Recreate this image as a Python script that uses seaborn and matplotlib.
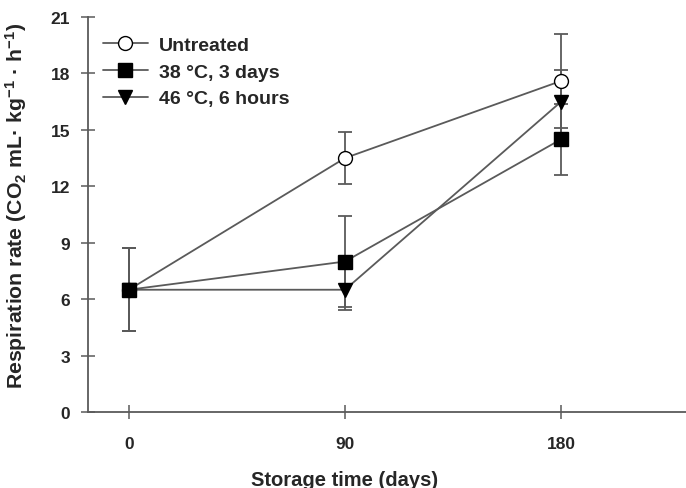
import matplotlib
matplotlib.use("Agg")
import matplotlib.pyplot as plt
import matplotlib.transforms as mtransforms
import seaborn as sns
import pandas as pd
from matplotlib.lines import Line2D

days = [0, 90, 180]
series = ["Untreated", "38 \u00b0C, 3 days", "46 \u00b0C, 6 hours"]
untreated = [6.5, 13.5, 17.6]
untreated_err = [2.2, 1.4, 2.5]
heat38 = [6.5, 8.0, 14.5]
heat38_err = [2.2, 2.4, 1.9]
heat46 = [6.5, 6.5, 16.5]
heat46_err = [2.2, 1.1, 1.7]

values = [untreated, heat38, heat46]
errors = [untreated_err, heat38_err, heat46_err]

rows = []
for name, v, e in zip(series, values, errors):
    for d, y, er in zip(days, v, e):
        rows.append({"day": d, "rate": y, "err": er, "treatment": name})
df = pd.DataFrame(rows)

sns.set_style("ticks")
plt.rcParams["font.family"] = ["Liberation Sans", "DejaVu Sans"]
plt.rcParams["font.weight"] = "bold"
plt.rcParams["mathtext.fontset"] = "custom"
plt.rcParams["mathtext.rm"] = "Liberation Sans:bold"
plt.rcParams["mathtext.default"] = "rm"

fig = plt.figure(figsize=(6.86, 4.89), dpi=100)
ax = fig.add_axes([88/686, 1-413/489, 1-88/686, 395/489])

markers = {series[0]: "o", series[1]: "s", series[2]: "v"}
faces = {series[0]: "white", series[1]: "black", series[2]: "black"}
line_col = "#5a5a5a"

for name in series:
    sub = df[df["treatment"] == name]
    ax.errorbar(sub["day"], sub["rate"], yerr=sub["err"], fmt="none",
                ecolor=line_col, elinewidth=1.3, capsize=5, capthick=1.3, zorder=1)

sns.lineplot(data=df, x="day", y="rate", hue="treatment",
             palette={s: line_col for s in series}, linewidth=1.3,
             ax=ax, legend=False, zorder=2)

for name in series:
    sub = df[df["treatment"] == name]
    ax.plot(sub["day"], sub["rate"], linestyle="none", marker=markers[name],
            markersize=10, markerfacecolor=faces[name], markeredgecolor="black",
            markeredgewidth=1.0, zorder=3)

ax.set_xlim(-17, 232)
ax.set_ylim(0, 21)
ax.set_xticks(days)
ax.set_yticks(range(0, 22, 3))
ax.tick_params(direction="inout", length=10, width=1.1, color=line_col,
               labelsize=12.5)
ax.tick_params(axis="x", pad=12)
ax.tick_params(axis="y", pad=8)
for lab in ax.get_xticklabels() + ax.get_yticklabels():
    lab.set_fontweight("bold")
for sp in ["top", "right"]:
    ax.spines[sp].set_visible(False)
for sp in ["left", "bottom"]:
    ax.spines[sp].set_color(line_col)
    ax.spines[sp].set_linewidth(1.3)

ax.set_xlabel("")
ax.set_ylabel("")
trans = mtransforms.blended_transform_factory(ax.transData, fig.transFigure)
fig.text(90, 1 - 486/489, "Storage time (days)", transform=trans,
         ha="center", va="baseline", fontsize=14.5, fontweight="bold")
fig.text(29/686, 1 - 206/489,
         "Respiration rate (CO$_2$ mL\u00b7 kg$^{-1}$ \u00b7 h$^{-1}$)",
         rotation=90, ha="right", va="center", fontsize=15.3, fontweight="bold")

handles = [Line2D([0], [0], color=line_col, lw=1.3, marker=markers[s], markersize=10,
                  markerfacecolor=faces[s], markeredgecolor="black") for s in series]
leg = ax.legend(handles, series, loc="upper left", bbox_to_anchor=(0.025, 0.952),
                frameon=False, fontsize=14, handlelength=2.3, handletextpad=0.6,
                labelspacing=0.48, borderpad=0, borderaxespad=0)
for t in leg.get_texts():
    t.set_fontweight("bold")

fig.savefig("out.png", dpi=100)
